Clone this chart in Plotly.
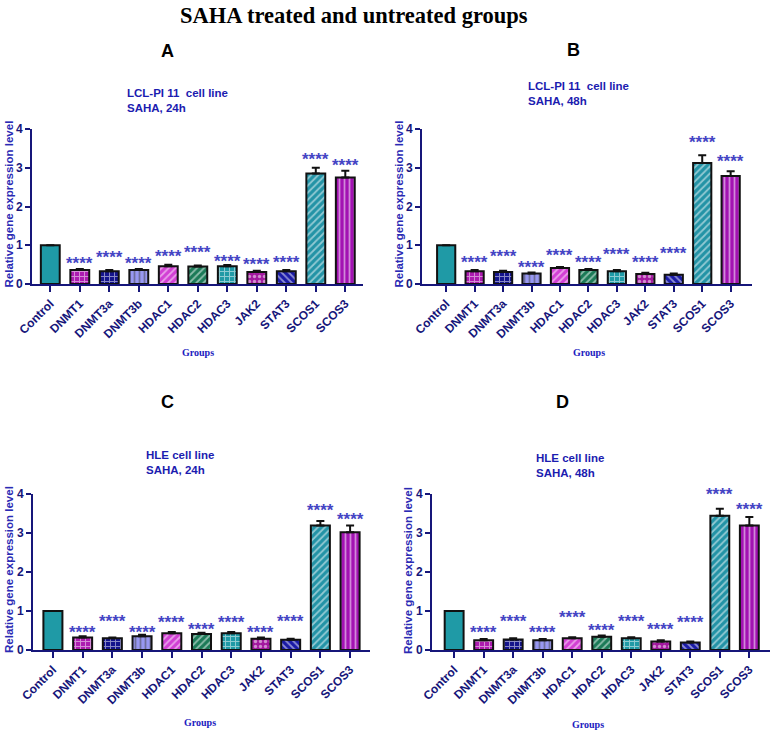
import plotly.graph_objects as go

groups = ["Control", "DNMT1", "DNMT3a", "DNMT3b", "HDAC1", "HDAC2", "HDAC3", "JAK2", "STAT3", "SCOS1", "SCOS3"]

a_mean = [1.0, 0.36, 0.33, 0.36, 0.46, 0.45, 0.46, 0.31, 0.33, 2.85, 2.75]
a_err = [0.0, 0.03, 0.03, 0.03, 0.04, 0.03, 0.03, 0.03, 0.03, 0.15, 0.17]
b_mean = [1.0, 0.33, 0.31, 0.27, 0.41, 0.36, 0.33, 0.26, 0.24, 3.12, 2.79]
b_err = [0.0, 0.03, 0.03, 0.03, 0.03, 0.03, 0.03, 0.03, 0.03, 0.20, 0.12]
c_mean = [1.0, 0.32, 0.30, 0.35, 0.43, 0.41, 0.43, 0.29, 0.26, 3.19, 3.02]
c_err = [0.0, 0.03, 0.02, 0.04, 0.03, 0.03, 0.03, 0.03, 0.03, 0.12, 0.17]
d_mean = [1.0, 0.25, 0.27, 0.25, 0.30, 0.34, 0.30, 0.22, 0.19, 3.44, 3.19]
d_err = [0.0, 0.03, 0.03, 0.03, 0.03, 0.03, 0.03, 0.03, 0.03, 0.18, 0.22]

signif = ["", "****", "****", "****", "****", "****", "****", "****", "****", "****", "****"]

panel_letters = ["A", "B", "C", "D"]
panel_titles = ["LCL-PI 11  cell line<br>SAHA, 24h", "LCL-PI 11  cell line<br>SAHA, 48h",
                "HLE cell line<br>SAHA, 24h", "HLE cell line<br>SAHA, 48h"]

# styles
bar_colors = ["#1f9aa6", "#ad1bb0", "#14148c", "#9898f2", "#d23fd4", "#1b7a57",
              "#1f9aa6", "#a3189f", "#1a1aa6", "#2393a6", "#a312b3"]
fg_colors = ["#1f9aa6", "#6e0a72", "#3a3ac0", "#c8c8ff", "#f08af0", "#0e5638",
             "#7fd0d8", "#d860d4", "#5050d0", "#66c2cf", "#6a0678"]
shapes = ["", "+", "+", "|", "/", "/", "+", ".", "\\", "/", "|"]

W, H = 777, 734
NAVY = "#16167a"

def fx(px):
    return px / W

def fy(py):
    return (H - py) / H

panels = [
    dict(mean=a_mean, err=a_err, x0=32, x1=363, y0=284, y1=129, xr=[-0.62, 10.6],
         gaps=[0, 6, 14, 6, 9, 14, 5, 7, 9, 9, 6],
         letter=(167, 51), sub=(125, 100), groups=(198, 352)),
    dict(mean=b_mean, err=b_err, x0=422, x1=752, y0=284, y1=129, xr=[-0.85, 10.75],
         gaps=[0, 9, 15, 6, 12, 7, 17, 11, 21, 14, 11],
         letter=(573, 50), sub=(526, 93), groups=(589, 352)),
    dict(mean=c_mean, err=c_err, x0=33, x1=370, y0=650, y1=494, xr=[-0.67, 10.67],
         gaps=[0, 5, 17, 3, 11, 4, 11, 6, 18, 11, 7],
         letter=(167, 402), sub=(144, 462), groups=(200, 722)),
    dict(mean=d_mean, err=d_err, x0=432, x1=770, y0=650, y1=494, xr=[-0.75, 10.7],
         gaps=[0, 8, 18, 8, 21, 6, 17, 12, 20, 15, 9],
         letter=(562, 402), sub=(534, 465), groups=(588, 724)),
]

fig = go.Figure()
annotations = []
layout = dict(template="none", width=W, height=H, margin=dict(l=0, r=0, t=0, b=0, pad=0),
              paper_bgcolor="white", plot_bgcolor="white", showlegend=False)

for i, p in enumerate(panels):
    n = "" if i == 0 else str(i + 1)
    xa, ya = "x" + n, "y" + n
    fig.add_trace(go.Bar(
        x=groups, y=p["mean"], xaxis=xa, yaxis=ya, width=0.64,
        marker=dict(color=bar_colors, line=dict(color="#111111", width=2),
                    pattern=dict(shape=shapes, fgcolor=fg_colors, bgcolor=bar_colors,
                                 fillmode="overlay", size=5, solidity=0.35)),
        error_y=dict(type="data", array=p["err"], arrayminus=[0] * len(groups),
                     symmetric=False, color="#111111", thickness=2, width=4),
    ))
    layout["xaxis" + n] = dict(
        domain=[fx(p["x0"]), fx(p["x1"])], anchor=ya, range=p["xr"], automargin=False,
        showline=True, linecolor=NAVY, linewidth=2, ticks="outside", ticklen=6,
        tickwidth=2, tickcolor=NAVY, tickangle=-45, showgrid=False, zeroline=False,
        tickfont=dict(family="Liberation Sans, Arial", size=12, color=NAVY, weight="bold"),
    )
    layout["yaxis" + n] = dict(
        domain=[fy(p["y0"]), fy(p["y1"])], anchor=xa, range=[0, 4], dtick=1, automargin=False,
        showline=True, linecolor=NAVY, linewidth=2, ticks="outside", ticklen=5,
        tickwidth=2, tickcolor=NAVY, showgrid=False, zeroline=False,
        tickfont=dict(family="Liberation Sans, Arial", size=12, color=NAVY, weight="bold"),
    )
    # significance stars
    for g, m, e, s, gap in zip(groups, p["mean"], p["err"], signif, p["gaps"]):
        if s:
            annotations.append(dict(
                x=g, y=m + e, xref=xa, yref=ya, text=s, showarrow=False,
                yanchor="middle", yshift=gap - 1,
                font=dict(family="Liberation Sans, Arial", size=17, color="#4444c4", weight="bold")))
    # y axis title
    annotations.append(dict(
        x=fx(p["x0"] - 24), y=fy((p["y0"] + p["y1"]) / 2 - 2), xref="paper", yref="paper",
        xanchor="center", yanchor="middle",
        text="Relative gene expression level", textangle=-90, showarrow=False,
        font=dict(family="Liberation Sans, Arial", size=11.5, color="#2a2ab4", weight="bold")))
    # panel letter
    annotations.append(dict(
        x=fx(p["letter"][0]), y=fy(p["letter"][1]), xref="paper", yref="paper",
        xanchor="center", yanchor="middle",
        text=panel_letters[i], showarrow=False,
        font=dict(family="Liberation Sans, Arial", size=18, color="black", weight="bold")))
    # subtitle
    annotations.append(dict(
        x=fx(p["sub"][0]), y=fy(p["sub"][1]), xref="paper", yref="paper",
        text=panel_titles[i], showarrow=False, xanchor="left", yanchor="middle", align="left",
        font=dict(family="Liberation Sans, Arial", size=11.5, color="#1c1cb0", weight="bold")))
    # x title
    annotations.append(dict(
        x=fx(p["groups"][0]), y=fy(p["groups"][1]), xref="paper", yref="paper",
        xanchor="center", yanchor="middle",
        text="Groups", showarrow=False,
        font=dict(family="Liberation Serif, Times New Roman", size=10, color="#2020c0", weight="bold")))

annotations.append(dict(
    x=fx(354), y=fy(16), xref="paper", yref="paper", text="SAHA treated and untreated groups",
    xanchor="center", yanchor="middle", showarrow=False,
    font=dict(family="Liberation Serif, Times New Roman", size=22.5, color="black", weight="bold")))

layout["annotations"] = annotations
fig.update_layout(**layout)
fig.write_html("out.html", config={"displayModeBar": False},
               post_script="document.body.style.margin='0';document.body.style.overflow='hidden';")
